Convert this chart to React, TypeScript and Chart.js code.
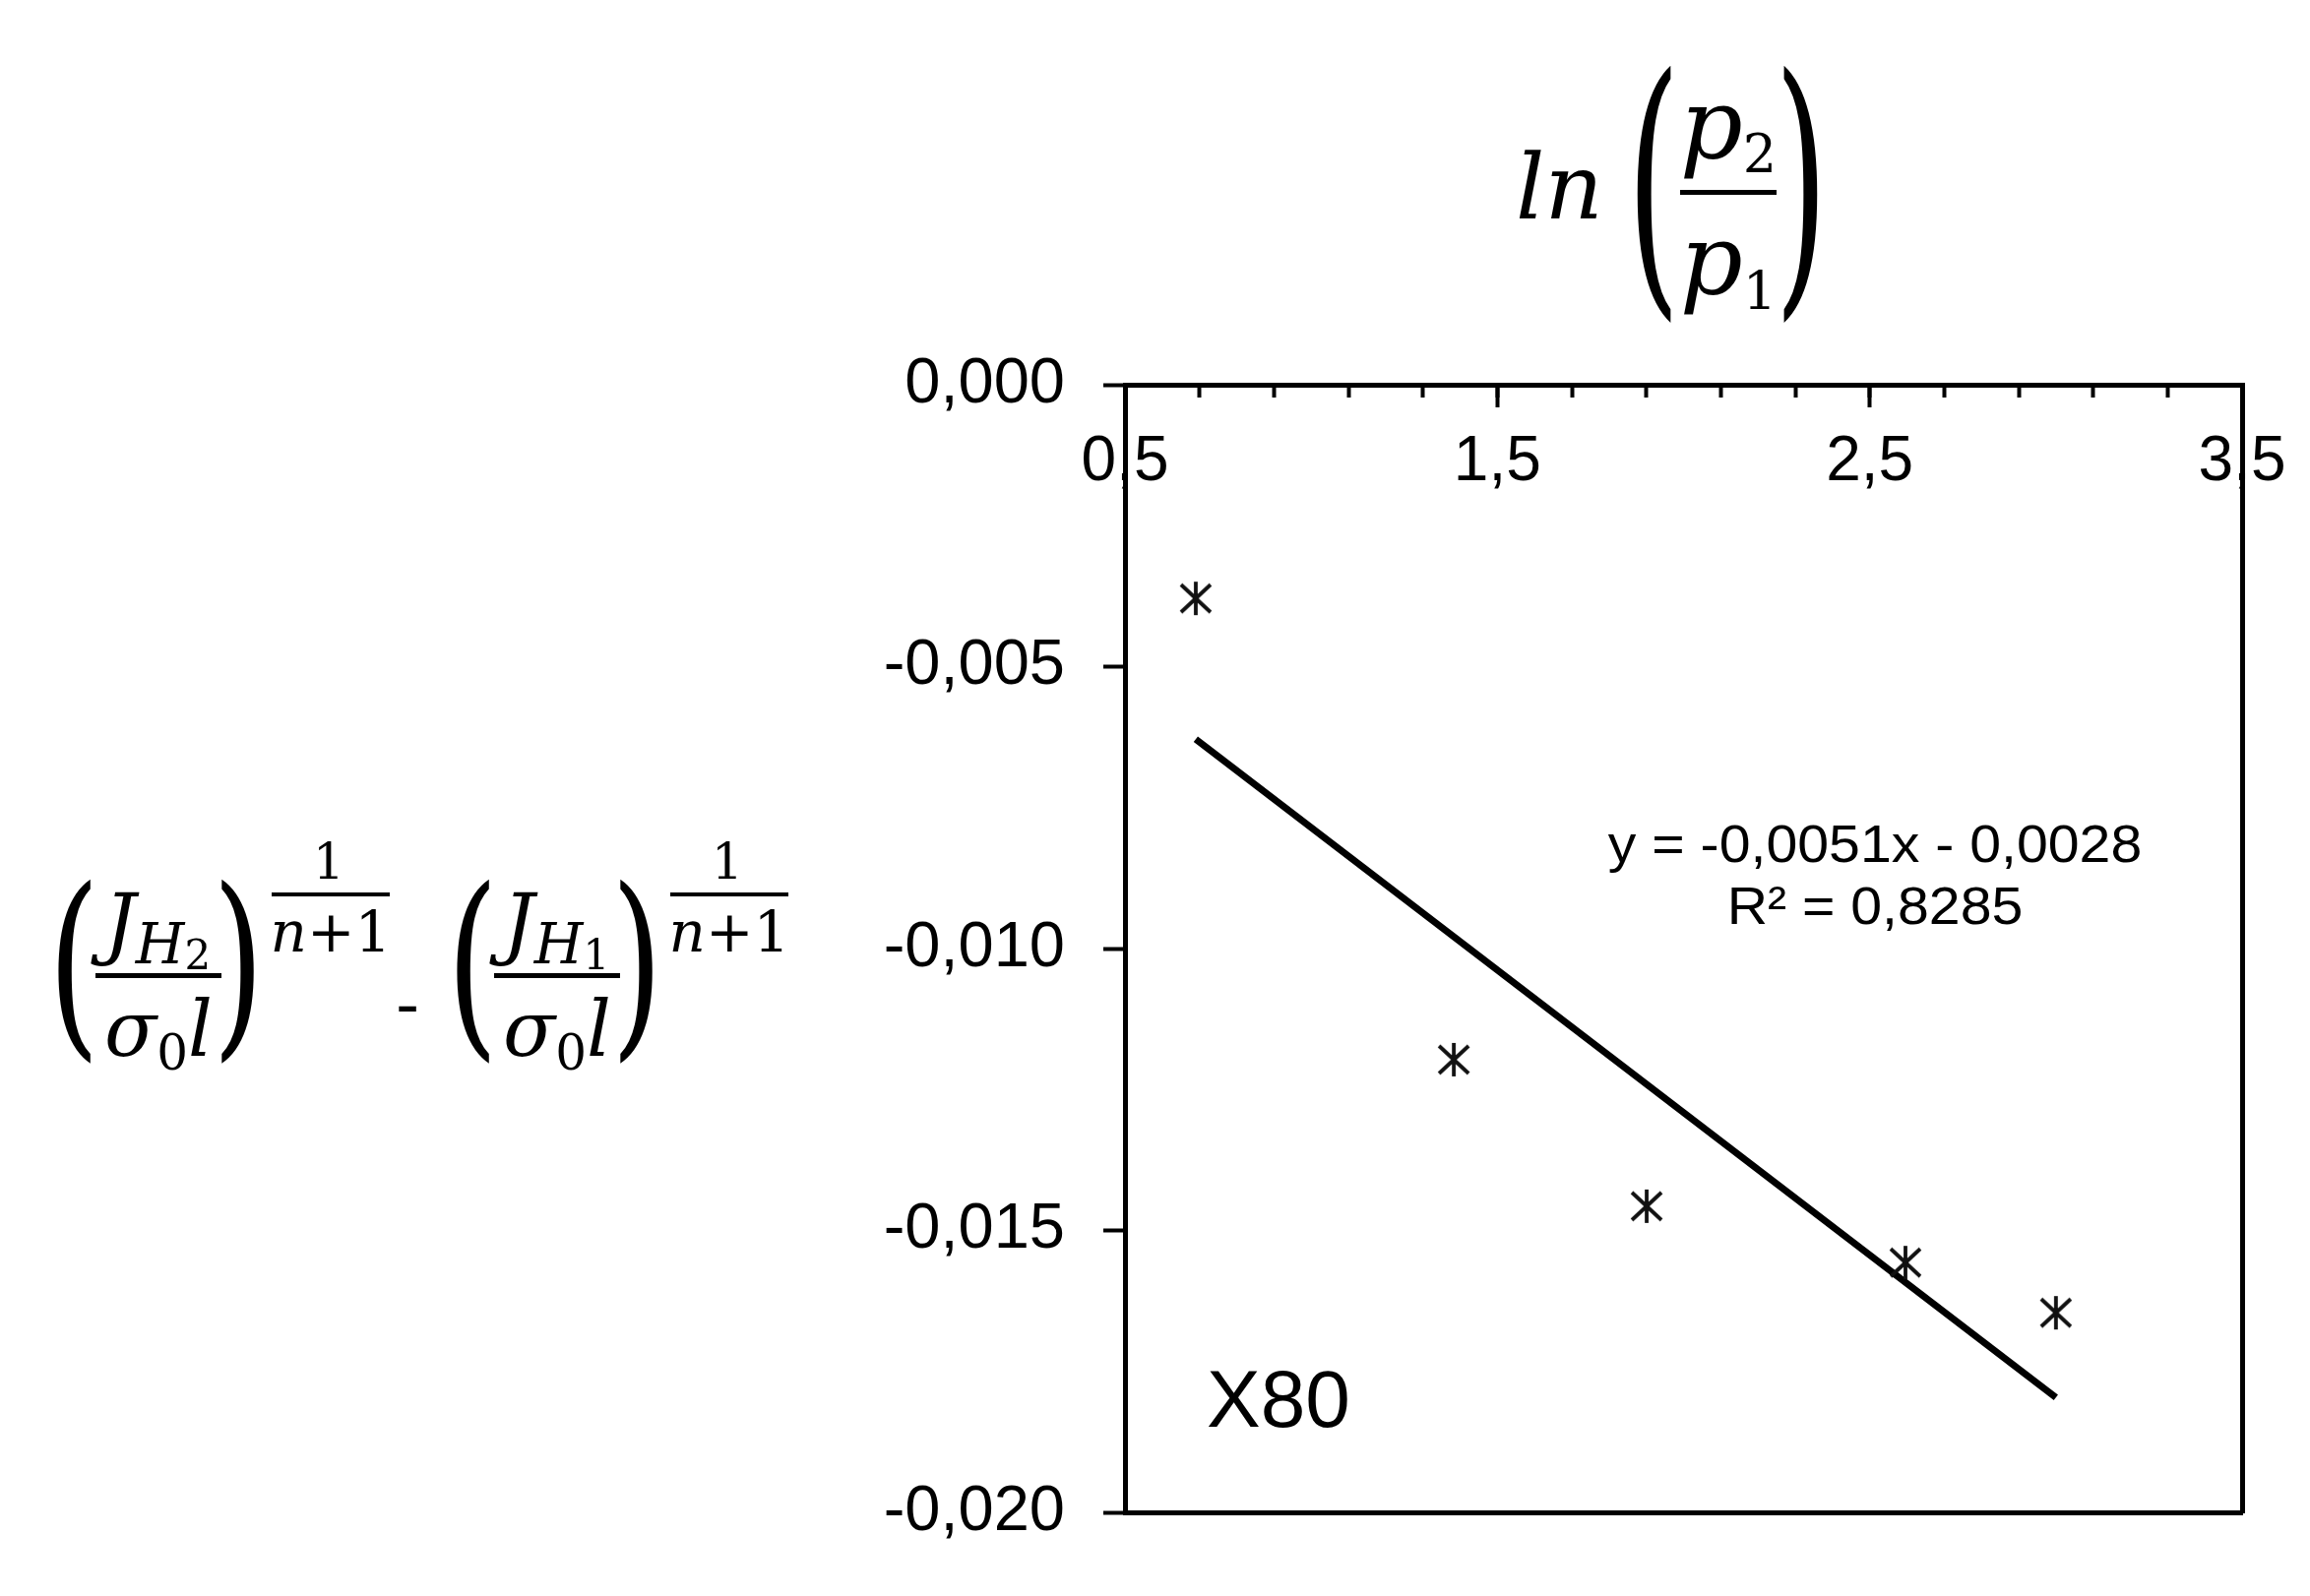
import React, { useEffect, useRef } from 'react';
import { Chart, registerables } from 'chart.js';

Chart.register(...registerables);

// ---- data ----
const lnRatio = [0.69, 1.383, 1.901, 2.596, 3.0];
const jDiff = [-0.00379, -0.01197, -0.01457, -0.01557, -0.01646];
const xRange = [0.5, 3.5];
const yRange = [-0.02, 0];
const xMajorStep = 1;
const xMinorStep = 0.2;
const yMajorStep = 0.005;
const yMinorStep = 0.001;
const equationText = 'y = -0,0051x - 0,0028';
const r2Text = 'R² = 0,8285';
const seriesLabel = 'X80';

// ---- layout ----
const CW = 2340;
const CH = 1610;
const AREA = { left: 1143, top: 391, right: 2278, bottom: 1537 };
const SANS = "'Liberation Sans', Arial, sans-serif";
const SERIF = "'DejaVu Serif', serif";

// least-squares linear trend through the data (as the spreadsheet trendline)
function linearFit(xs: number[], ys: number[]) {
  const n = xs.length;
  const mx = xs.reduce((a, b) => a + b, 0) / n;
  const my = ys.reduce((a, b) => a + b, 0) / n;
  let sxy = 0;
  let sxx = 0;
  for (let i = 0; i < n; i++) {
    sxy += (xs[i] - mx) * (ys[i] - my);
    sxx += (xs[i] - mx) * (xs[i] - mx);
  }
  const slope = sxy / sxx;
  return { slope, intercept: my - slope * mx };
}

function makeStar(): HTMLCanvasElement {
  const c = document.createElement('canvas');
  c.width = 36;
  c.height = 36;
  const g = c.getContext('2d')!;
  g.strokeStyle = '#111';
  g.lineWidth = 3.8;
  g.lineCap = 'butt';
  g.beginPath();
  g.moveTo(18, 1);
  g.lineTo(18, 35);
  g.moveTo(3, 4);
  g.lineTo(33, 32);
  g.moveTo(33, 4);
  g.lineTo(3, 32);
  g.stroke();
  return c;
}

type TxtProps = {
  x: number;
  base: number;
  size: number;
  family?: string;
  italic?: boolean;
  anchor?: 'left' | 'center' | 'right';
  sx?: number;
  children: React.ReactNode;
};

function Txt({ x, base, size, family = SERIF, italic = false, anchor = 'left', sx = 1, children }: TxtProps) {
  const tx = anchor === 'center' ? 'translateX(-50%)' : anchor === 'right' ? 'translateX(-100%)' : '';
  return (
    <div
      style={{
        position: 'absolute',
        left: x,
        top: base - 0.846 * size,
        fontSize: size,
        lineHeight: 1,
        fontFamily: family,
        fontStyle: italic ? 'italic' : 'normal',
        whiteSpace: 'nowrap',
        color: '#000',
        transform: `${tx} scaleX(${sx})`,
        transformOrigin: anchor === 'left' ? '0 0' : anchor === 'right' ? '100% 0' : '50% 0',
      }}
    >
      {children}
    </div>
  );
}

function Paren({ cx, cy, h, ch, size = 90, sx = 1 }: { cx: number; cy: number; h: number; ch: string; size?: number; sx?: number }) {
  const k = h / (0.89 * size);
  return (
    <div
      style={{
        position: 'absolute',
        left: cx,
        top: cy - size * 0.53,
        fontSize: size,
        lineHeight: 1,
        fontFamily: SERIF,
        color: '#000',
        transform: `translateX(-50%) scale(${sx}, ${k})`,
        transformOrigin: `50% ${size * 0.53}px`,
      }}
    >
      {ch}
    </div>
  );
}

function Bar({ x1, x2, y, t }: { x1: number; x2: number; y: number; t: number }) {
  return <div style={{ position: 'absolute', left: x1, top: y - t / 2, width: x2 - x1, height: t, background: '#000' }} />;
}

function Sub({ children, shift, size, italic = false }: { children: React.ReactNode; shift: number; size: number; italic?: boolean }) {
  return (
    <span style={{ fontSize: size, fontStyle: italic ? 'italic' : 'normal', position: 'relative', top: shift }}>{children}</span>
  );
}

function JTerm({ dx, idx }: { dx: number; idx: string }) {
  return (
    <>
      <Paren cx={75 + dx} cy={985} h={182} ch="(" size={90} sx={1.5} />
      <Txt x={160 + dx} base={966} size={80} italic anchor="center">
        J
        <Sub shift={14} size={57} italic>
          H<Sub shift={6} size={42}>{idx}</Sub>
        </Sub>
      </Txt>
      <Bar x1={97 + dx} x2={225 + dx} y={991} t={5} />
      <Txt x={161 + dx} base={1073} size={78} italic anchor="center">
        σ<Sub shift={14} size={50}>0</Sub>l
      </Txt>
      <Paren cx={242 + dx} cy={985} h={182} ch=")" size={90} sx={1.5} />
      <Txt x={334 + dx} base={893} size={50} anchor="center">1</Txt>
      <Bar x1={276 + dx} x2={396 + dx} y={909} t={4} />
      <Txt x={336 + dx} base={967} size={58} anchor="center">
        <span style={{ fontStyle: 'italic' }}>n</span>+1
      </Txt>
    </>
  );
}

const noPad = (s: any) => {
  s.paddingLeft = 0;
  s.paddingRight = 0;
  s.paddingTop = 0;
  s.paddingBottom = 0;
};

export default function App() {
  const canvasRef = useRef<HTMLCanvasElement | null>(null);

  useEffect(() => {
    const canvas = canvasRef.current;
    if (!canvas) return;
    const star = makeStar();
    const x0 = Math.min(...lnRatio);
    const x1 = Math.max(...lnRatio);
    const fit = linearFit(lnRatio, jDiff);
    const fmt = (d: number) => (v: any) => Number(v).toFixed(d).replace('.', ',');
    const black = '#000';

    const chart = new Chart(canvas, {
      type: 'scatter',
      data: {
        datasets: [
          {
            label: seriesLabel,
            data: lnRatio.map((x, i) => ({ x, y: jDiff[i] })),
            pointStyle: star as any,
            pointRadius: 17,
            showLine: false,
            xAxisID: 'x',
            yAxisID: 'y',
          },
          {
            type: 'line',
            label: 'trend',
            data: [
              { x: x0, y: fit.slope * x0 + fit.intercept },
              { x: x1, y: fit.slope * x1 + fit.intercept },
            ],
            borderColor: black,
            borderWidth: 7,
            borderCapStyle: 'butt',
            pointRadius: 0,
            fill: false,
            xAxisID: 'x',
            yAxisID: 'y',
          } as any,
        ],
      },
      options: {
        animation: false,
        responsive: false,
        maintainAspectRatio: false,
        devicePixelRatio: 1,
        layout: { padding: { left: 0, top: AREA.top, right: CW - AREA.right, bottom: CH - AREA.bottom } },
        plugins: { legend: { display: false }, tooltip: { enabled: false } },
        scales: {
          x: {
            type: 'linear',
            position: { y: 0 },
            min: xRange[0],
            max: xRange[1],
            ticks: {
              stepSize: xMajorStep,
              autoSkip: false,
              maxRotation: 0,
              callback: fmt(1),
              color: black,
              padding: 27,
              font: { family: SANS, size: 64, lineHeight: 1 },
            },
            grid: { drawOnChartArea: false, drawTicks: true, tickLength: 20, tickWidth: 4, tickColor: black },
            border: { display: true, color: black, width: 5 },
            afterFit: noPad,
          },
          xMinor: {
            type: 'linear',
            axis: 'x',
            position: { y: 0 },
            min: xRange[0],
            max: xRange[1],
            ticks: { stepSize: xMinorStep, display: false, autoSkip: false },
            grid: { drawOnChartArea: false, drawTicks: true, tickLength: 13, tickWidth: 4, tickColor: black },
            border: { display: false },
            afterFit: noPad,
          },
          y: {
            type: 'linear',
            position: 'left',
            min: yRange[0],
            max: yRange[1],
            ticks: {
              stepSize: yMajorStep,
              autoSkip: false,
              callback: fmt(3),
              color: black,
              padding: 39,
              font: { family: SANS, size: 65 },
            },
            grid: { drawOnChartArea: false, drawTicks: true, tickLength: 22, tickWidth: 4, tickColor: black },
            border: { display: true, color: black, width: 5 },
            afterFit: (s: any) => {
              noPad(s);
              s.width = AREA.left;
            },
          },
          yMinor: {
            type: 'linear',
            axis: 'y',
            position: 'left',
            min: yRange[0],
            max: yRange[1],
            ticks: { stepSize: yMinorStep, display: false, autoSkip: false },
            grid: { drawOnChartArea: false, drawTicks: true, tickLength: 16, tickWidth: 4, tickColor: black },
            border: { display: false },
            afterFit: (s: any) => {
              noPad(s);
              s.width = 0;
            },
          },
          xFrame: {
            type: 'linear',
            axis: 'x',
            position: 'bottom',
            min: xRange[0],
            max: xRange[1],
            ticks: { display: false },
            grid: { drawOnChartArea: false, drawTicks: false },
            border: { display: true, color: black, width: 5 },
            afterFit: (s: any) => {
              noPad(s);
              s.height = 0;
            },
          },
          yFrame: {
            type: 'linear',
            axis: 'y',
            position: 'right',
            min: yRange[0],
            max: yRange[1],
            ticks: { display: false },
            grid: { drawOnChartArea: false, drawTicks: false },
            border: { display: true, color: black, width: 5 },
            afterFit: (s: any) => {
              noPad(s);
              s.width = 0;
            },
          },
        } as any,
      },
    });
    return () => chart.destroy();
  }, []);

  return (
    <div>
      <canvas
        ref={canvasRef}
        width={CW}
        height={CH}
        style={{ position: 'absolute', left: 0, top: 0, width: CW, height: CH }}
      />
      {/* x-axis title: ln(p2/p1) */}
      <Txt x={1540} base={223} size={92} italic>ln</Txt>
      <Paren cx={1680} cy={195} h={254} ch="(" size={100} sx={1.4} />
      <Txt x={1756} base={162} size={100} italic anchor="center">
        p<Sub shift={14} size={54}>2</Sub>
      </Txt>
      <Bar x1={1707} x2={1805} y={195} t={5} />
      <Txt x={1756} base={300} size={100} italic anchor="center">
        p<Sub shift={16} size={54}>1</Sub>
      </Txt>
      <Paren cx={1830} cy={195} h={254} ch=")" size={100} sx={1.4} />

      {/* y-axis title */}
      <JTerm dx={0} idx="2" />
      <Txt x={414} base={1044} size={70} anchor="center">-</Txt>
      <JTerm dx={405} idx="1" />

      {/* annotations */}
      <Txt x={1905} base={876} size={54} family={SANS} anchor="center" sx={1.06}>{equationText}</Txt>
      <Txt x={1905} base={939} size={54} family={SANS} anchor="center" sx={1.06}>{r2Text}</Txt>
      <Txt x={1226} base={1450} size={82} family={SANS}>{seriesLabel}</Txt>
    </div>
  );
}
